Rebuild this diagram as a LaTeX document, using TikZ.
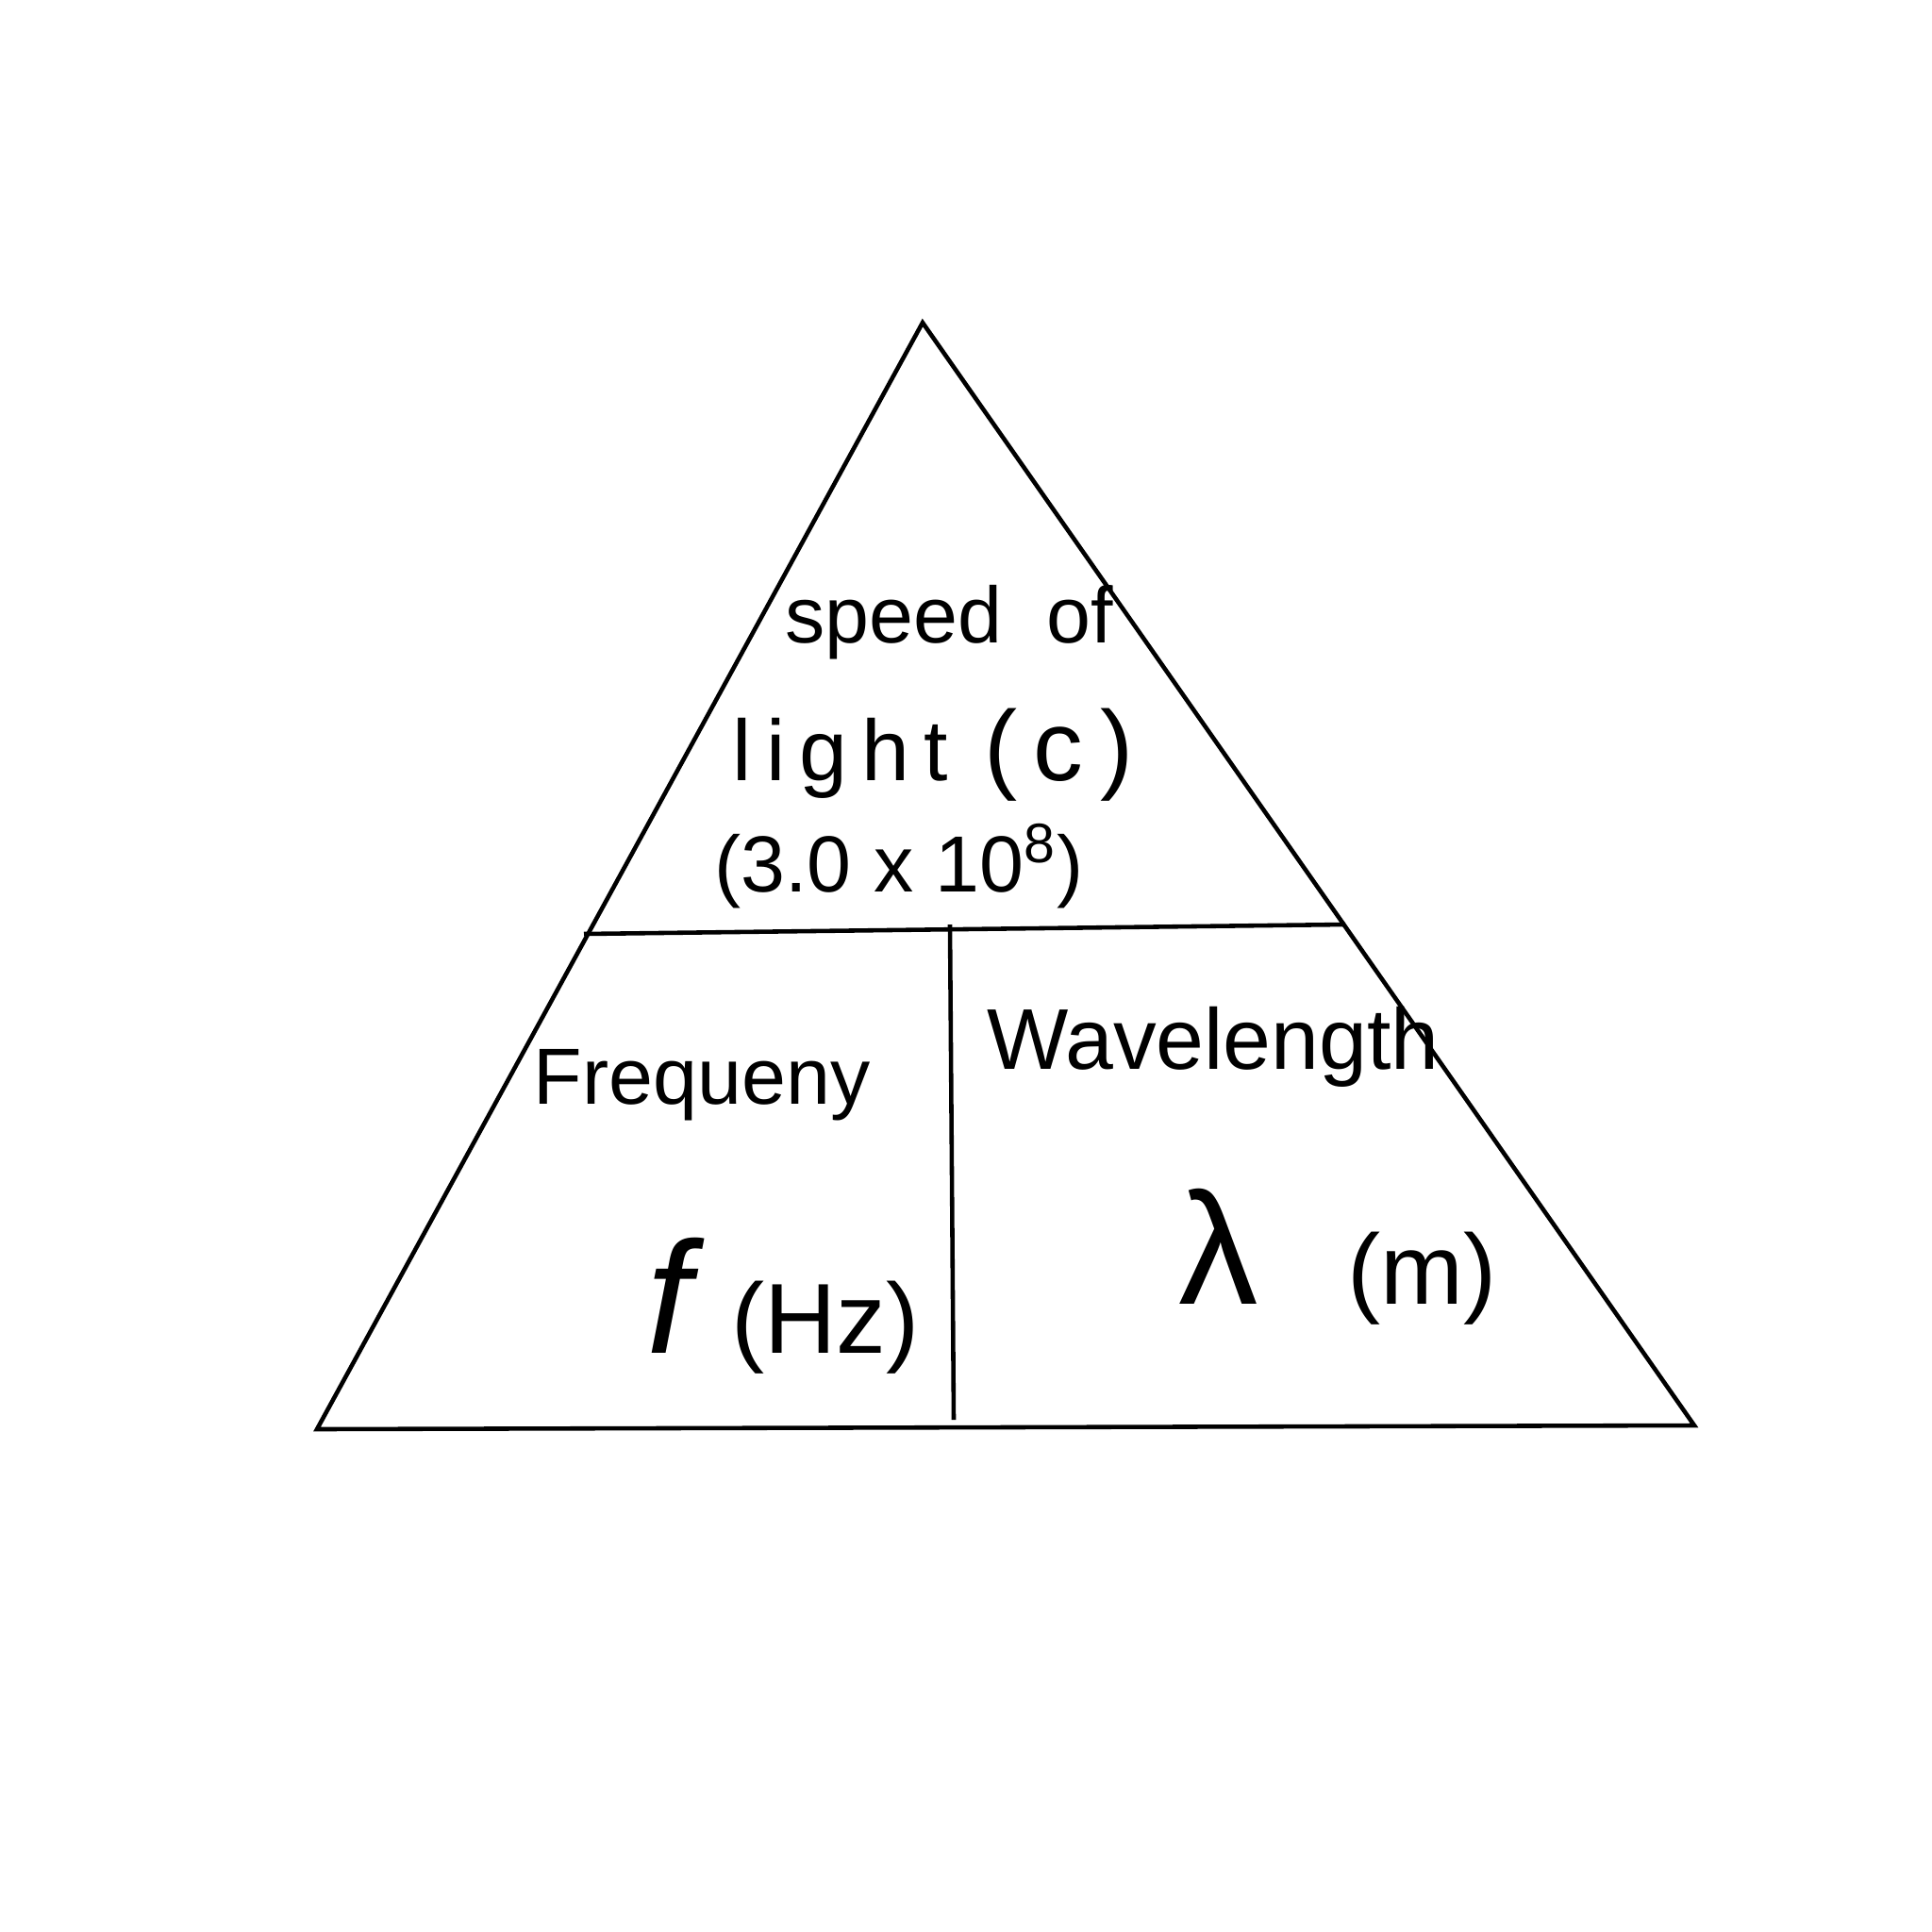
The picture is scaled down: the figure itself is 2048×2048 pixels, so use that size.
\documentclass[tikz,border=0pt]{standalone}
\usepackage{fontspec}
\setmainfont{Liberation Sans}
\begin{document}
\begin{tikzpicture}[x=0.01cm,y=-0.01cm,
  edge/.style={line width=1.3pt,black},
  lbl/.style={inner sep=0pt,font=\fontsize{24}{28}\selectfont},
  sym/.style={inner sep=0pt,font=\fontsize{48}{52}\selectfont}]
\useasboundingbox[fill=white] (0,0) rectangle (2048,2048);
\coordinate (apex) at (978,342);
\coordinate (bl) at (336,1515);
\coordinate (br) at (1796,1511);
\coordinate (hl) at (619,990);
\coordinate (hr) at (1426,980);
\coordinate (vt) at (1007,980);
\coordinate (vb) at (1011,1505);
\draw[edge] (apex) -- (bl) -- (br) -- cycle;
\draw[edge] (hl) -- (hr);
\draw[edge] (vt) -- (vb);
\node[lbl] (s1) at (1006,660) {speed \ of};
\node[lbl] (s2) at (989,800) {{\fontsize{26}{30}\selectfont l\,i\,g\,h\,t}\;\,{\fontsize{30}{34}\selectfont(\,c\,)}};
\node[lbl] (s3) at (953,918) {(3.0 x 10\textsuperscript{8})};
\node[lbl] (fq) at (744,1150) {Frequeny};
\node[sym] (f) at (830,1384) {\textit{f}\,{\fontsize{30}{34}\selectfont(Hz)}};
\node[lbl,font=\fontsize{26}{30}\selectfont] (wl) at (1286,1110) {Wavelength};
\node[sym] (l) at (1418,1332) {λ\;\;{\fontsize{30}{34}\selectfont(m)}};
\end{tikzpicture}
\end{document}
